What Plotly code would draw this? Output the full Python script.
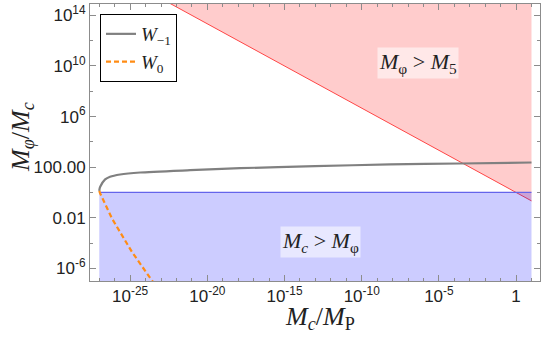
import plotly.graph_objects as go

# ---- data (x = M_c/M_P, y = M_phi/M_c) ----
w_minus1_x = [1e-27, 1.05e-27, 1.15e-27, 2.4e-27, 5.0e-27, 2.24e-26, 4.47e-25,
              7.76e-22, 1.32e-18, 9.55e-14, 6.92e-9, 2.34e-4, 10]
w_minus1_y = [1.32, 2.0, 2.82, 10.7, 17.4, 26.3, 38.0,
              57.5, 83.2, 120, 166, 195, 234]

w0_x = [1e-27, 1.15e-27, 6.6e-27, 1.29e-25, 2.29e-24, 3.2e-24]
w0_y = [1.32, 0.83, 8.9e-3, 2.04e-5, 1.35e-7, 7.9e-8]

# boundary M_phi = M_5 (straight line in log-log)
m5_x = [1e-27, 10]
m5_y = [1e18, 0.2154]

# boundary M_c = M_phi
mc_x = [1e-27, 10]
mc_y = [1, 1]

y_top, y_bottom = 1e18, 1e-10

x_tickvals = [1e-25, 1e-20, 1e-15, 1e-10, 1e-5, 1]
x_ticktext = ["10<sup>-25</sup>", "10<sup>-20</sup>", "10<sup>-15</sup>",
              "10<sup>-10</sup>", "10<sup>-5</sup>", "1"]
y_tickvals = [1e14, 1e10, 1e6, 100, 0.01, 1e-6]
y_ticktext = ["10<sup>14</sup>", "10<sup>10</sup>", "10<sup>6</sup>",
              "100.00", "0.01", "10<sup>-6</sup>"]

serif = "Liberation Serif"
sans = "Liberation Sans"

W, H, L, R, T, B = 545, 339, 90, 5, 4, 58
pw, ph = W - L - R, H - T - B

fig = go.Figure()

# red region M_phi > M_5
fig.add_trace(go.Scatter(
    x=[m5_x[0], m5_x[1], m5_x[1], m5_x[0]],
    y=[m5_y[0], m5_y[1], y_top, y_top],
    fill="toself", fillcolor="rgba(255,0,0,0.2)",
    line=dict(width=0), mode="lines", showlegend=False, hoverinfo="skip"))
fig.add_trace(go.Scatter(
    x=m5_x, y=m5_y, mode="lines",
    line=dict(color="rgb(255,70,70)", width=1), showlegend=False))

# blue region M_c > M_phi
fig.add_trace(go.Scatter(
    x=[mc_x[0], mc_x[1], mc_x[1], mc_x[0]],
    y=[mc_y[0], mc_y[1], y_bottom, y_bottom],
    fill="toself", fillcolor="rgba(0,0,255,0.2)",
    line=dict(width=0), mode="lines", showlegend=False, hoverinfo="skip"))
fig.add_trace(go.Scatter(
    x=mc_x, y=mc_y, mode="lines",
    line=dict(color="rgb(100,100,235)", width=1.2), showlegend=False))

# curves
fig.add_trace(go.Scatter(
    x=w_minus1_x, y=w_minus1_y, mode="lines", name="<i>W</i><sub>−1</sub>",
    line=dict(color="rgb(128,128,128)", width=2.2, shape="spline", smoothing=0.6)))
fig.add_trace(go.Scatter(
    x=w0_x, y=w0_y, mode="lines", name="<i>W</i><sub>0</sub>",
    line=dict(color="rgb(255,140,20)", width=2.2, dash="5px,3px")))

axis_common = dict(
    type="log", showgrid=False, zeroline=False, automargin=False,
    showline=True, linecolor="rgb(140,140,140)", linewidth=1, mirror="ticks",
    ticks="inside", ticklen=6, tickcolor="rgb(140,140,140)",
    tickfont=dict(family=sans, size=17, color="#222"),
)

fig.update_xaxes(
    **axis_common, range=[-27.6, 1.55],
    tickmode="array", tickvals=x_tickvals, ticktext=x_ticktext,
    minor=dict(tickmode="array",
               tickvals=[10.0 ** k for k in range(-27, 2)],
               ticks="inside", ticklen=3, tickcolor="rgb(140,140,140)"))
fig.update_yaxes(
    **axis_common, range=[-7.0, 14.9],
    tickmode="array", tickvals=y_tickvals, ticktext=y_ticktext,
    minor=dict(tickmode="array",
               tickvals=[10.0 ** k for k in range(-6, 15, 2)],
               ticks="inside", ticklen=3, tickcolor="rgb(140,140,140)"))

fig.update_layout(
    width=W, height=H,
    margin=dict(l=L, r=R, t=T, b=B, autoexpand=False),
    plot_bgcolor="white", paper_bgcolor="white",
    legend=dict(x=(100 - L) / pw, y=(H - B - 14) / ph, xanchor="left", yanchor="top",
                bgcolor="white", bordercolor="black", borderwidth=1,
                font=dict(family=serif, size=19, color="#222"),
                tracegroupgap=0, itemwidth=30),
    annotations=[
        dict(text="<i>M</i><sub>φ</sub> > <i>M</i><sub>5</sub>",
             x=-6.35, y=10.2, xref="x", yref="y", showarrow=False,
             font=dict(family=serif, size=22, color="#222"),
             bgcolor="rgba(255,255,255,0.55)"),
        dict(text="<i>M</i><sub><i>c</i></sub> > <i>M</i><sub>φ</sub>",
             x=-12.7, y=-3.92, xref="x", yref="y", showarrow=False,
             font=dict(family=serif, size=22, color="#222"),
             bgcolor="rgba(255,255,255,0.55)"),
        dict(text="<i>M</i><sub><i>c</i></sub>/<i>M</i><sub>P</sub>",
             x=(320 - L) / pw, y=(H - B - 318) / ph, xref="paper", yref="paper",
             xanchor="center", yanchor="middle", showarrow=False,
             font=dict(family=serif, size=26, color="#222")),
        dict(text="<i>M</i><sub><i>φ</i></sub>/<i>M</i><sub><i>c</i></sub>",
             x=(22 - L) / pw, y=(H - B - 137) / ph, xref="paper", yref="paper",
             xanchor="center", yanchor="middle", textangle=-90, showarrow=False,
             font=dict(family=serif, size=26, color="#222")),
    ],
)

fig.write_html("out.html",
               config={"displayModeBar": False},
               post_script="document.body.style.margin='0';"
                           "document.body.style.overflow='hidden';")
